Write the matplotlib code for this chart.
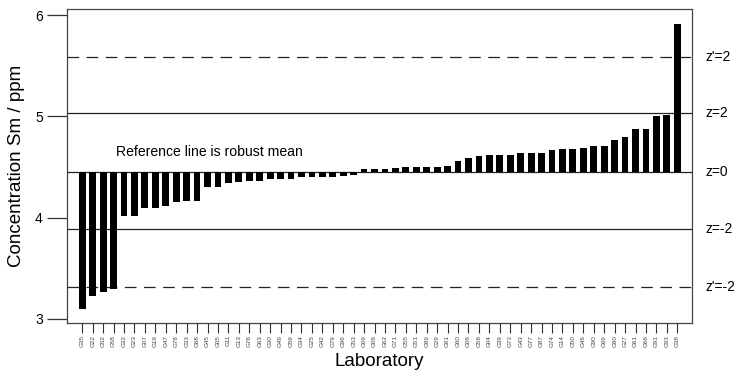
import numpy as np
import matplotlib
matplotlib.use("Agg")
import matplotlib.pyplot as plt

plt.rcParams['font.family'] = ['Liberation Sans', 'DejaVu Sans']

labs = ["G35", "G22", "G52", "G58", "G32", "G23", "G07", "G19", "G47", "G78",
        "G33", "G68", "G45", "G05", "G11", "G13", "G76", "G63", "G30", "G49",
        "G59", "G34", "G25", "G42", "G79", "G96", "G53", "G09", "G06", "G62",
        "G71", "G55", "G51", "G89", "G29", "G81", "G60", "G08", "G56", "G04",
        "G39", "G73", "G43", "G77", "G87", "G74", "G14", "G50", "G46", "G90",
        "G69", "G80", "G27", "G61", "G66", "G91", "G93", "G38"]

conc = [3.10, 3.23, 3.27, 3.30, 4.02, 4.02, 4.10, 4.10, 4.12, 4.15,
        4.16, 4.16, 4.30, 4.30, 4.34, 4.35, 4.36, 4.36, 4.385, 4.385,
        4.385, 4.40, 4.40, 4.40, 4.40, 4.41, 4.42, 4.48, 4.48, 4.485,
        4.49, 4.50, 4.50, 4.505, 4.505, 4.51, 4.557, 4.586, 4.61, 4.62,
        4.62, 4.62, 4.636, 4.636, 4.64, 4.67, 4.675, 4.675, 4.685, 4.71,
        4.71, 4.77, 4.80, 4.88, 4.88, 5.004, 5.014, 5.91]

robust_mean = 4.455
ref_lines = [5.586, 5.03, 4.455, 3.885, 3.316]
ref_names = ["z'=2", "z=2", "z=0", "z=-2", "z'=-2"]
ref_dashed = [True, False, False, False, True]

fig = plt.figure(figsize=(7.35, 3.74), dpi=100)
ax = fig.add_axes([67/735, 1 - 323/374, 625/735, (323 - 9.3)/374])

x = np.arange(len(labs))
vals = np.array(conc)
ax.bar(x, vals - robust_mean, bottom=robust_mean, width=0.65, color='black', zorder=3)

for v, dashed in zip(ref_lines, ref_dashed):
    if dashed:
        ax.axhline(v, color='#222222', lw=0.9, dashes=(9.3, 6.0), zorder=2)
    else:
        ax.axhline(v, color='#222222', lw=0.9, zorder=2)

for v, name in zip(ref_lines, ref_names):
    ax.text(1.021, v, name, transform=ax.get_yaxis_transform(),
            ha='left', va='center', fontsize=10, clip_on=False)

ax.text(3.23, 4.65, "Reference line is robust mean", fontsize=10.1,
        ha='left', va='center')

ax.set_xlim(-1.46, 58.41)
ax.set_ylim(2.96, 6.057)
ax.set_yticks([3, 4, 5, 6])
ax.set_xticks(x)
ax.set_xticklabels(labs, rotation=90, fontsize=4.5, color='#444444')

ax.tick_params(axis='y', length=14.4, width=0.9, color='#333333', pad=3, labelsize=10)
ax.tick_params(axis='x', length=7.2, width=0.8, color='#333333', pad=1.5)
for s in ax.spines.values():
    s.set_color('#444444')
    s.set_linewidth(0.9)

ax.set_ylabel("Concentration Sm / ppm", fontsize=13.5, labelpad=7)
ax.set_xlabel("Laboratory", fontsize=13.5, labelpad=4.5)

fig.savefig("out.png", dpi=100)
